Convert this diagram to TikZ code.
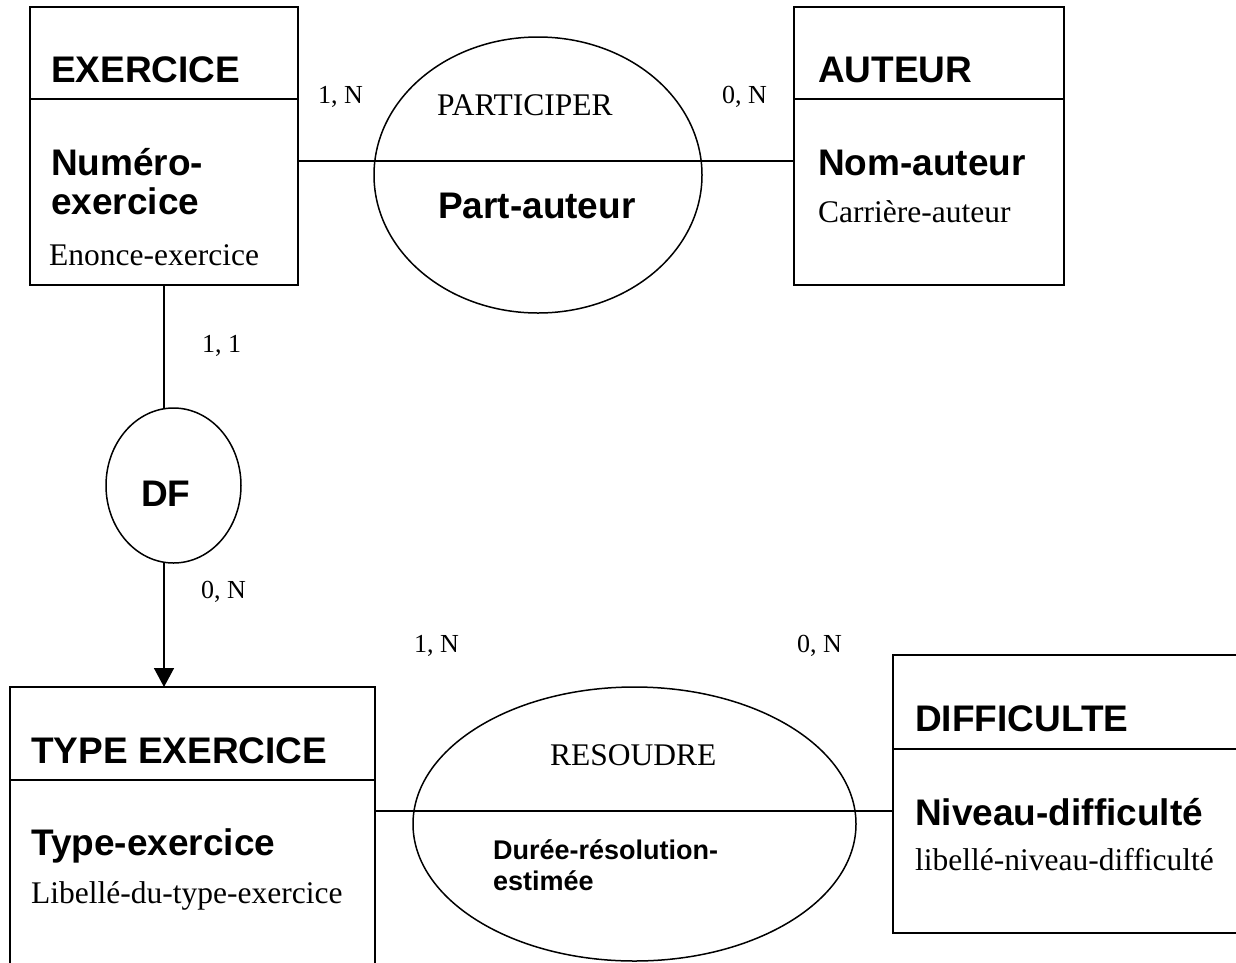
\documentclass[tikz,border=0pt]{standalone}
\usepackage{fontspec}
\setmainfont{Liberation Serif}
\newfontfamily\sansf{Liberation Sans}
\usetikzlibrary{shapes.geometric,arrows.meta}
\tikzset{
  ent/.style={draw, line width=2pt, rectangle, inner sep=0pt, outer sep=0pt, anchor=north west},
  rel/.style={draw, line width=1.5pt, ellipse, inner sep=0pt, outer sep=0pt},
  link/.style={line width=1.5pt},
  divl/.style={line width=2pt},
  ttl/.style={anchor=base west, inner sep=0pt, font=\sansf\bfseries\fontsize{37}{41}\selectfont},
  small/.style={anchor=base west, inner sep=0pt, font=\sansf\bfseries\fontsize{27}{31}\selectfont},
  attr/.style={anchor=base west, inner sep=0pt, font=\fontsize{31.5}{36}\selectfont},
  card/.style={anchor=base west, inner sep=0pt, font=\fontsize{26}{30}\selectfont},
}
\begin{document}
\begin{tikzpicture}[x=1pt, y=-1pt]
\useasboundingbox (0,0) rectangle (1236,962);
\clip (0,0) rectangle (1236,962);
% entity boxes
\node[ent, minimum width=268pt, minimum height=278pt] (exo) at (30,7) {};
\node[ent, minimum width=270pt, minimum height=278pt] (aut) at (794,7) {};
\node[ent, minimum width=365pt, minimum height=300pt] (type) at (10,687) {};
\node[ent, minimum width=360pt, minimum height=278pt] (dif) at (893,655) {};
% divider levels
\coordinate (d1) at (0,99);
\coordinate (d2) at (0,780);
\coordinate (d3) at (0,749);
\coordinate (y1) at (0,161);
\coordinate (y2) at (0,811);
\draw[divl] (exo.west |- d1) -- (exo.east |- d1);
\draw[divl] (aut.west |- d1) -- (aut.east |- d1);
\draw[divl] (type.west |- d2) -- (type.east |- d2);
\draw[divl] (dif.west |- d3) -- (dif.east |- d3);
% relation ellipses
\node[rel, minimum width=328pt, minimum height=276pt] (part) at (538,175) {};
\node[rel, minimum width=135pt, minimum height=155pt] (df) at (173.5,485.5) {};
\node[rel, minimum width=443pt, minimum height=274pt] (res) at (634.5,824) {};
% connectors
\draw[link] (exo.east |- y1) -- (aut.west |- y1);
\draw[link] (type.east |- y2) -- (dif.west |- y2);
\draw[link] (exo.south) -- (exo.south |- df.north);
\draw[link, -{Triangle[length=19pt,width=20pt]}] (exo.south |- df.south) -- (exo.south |- type.north);
% texts: EXERCICE
\node[ttl] (t1) at (51,82) {EXERCICE};
\node[ttl] (t2) at (51,175) {Numéro-};
\node[ttl] (t3) at (51,214) {exercice};
\node[attr] (t4) at (49,265) {Enonce-exercice};
% AUTEUR
\node[ttl] (t5) at (818,82) {AUTEUR};
\node[ttl] (t6) at (818,175) {Nom-auteur};
\node[attr] (t7) at (818,222) {Carrière-auteur};
% PARTICIPER
\node[card] (c1) at (318,103) {1, N};
\node[card] (c2) at (722,103) {0, N};
\node[attr] (t8) at (437,115) {PARTICIPER};
\node[ttl] (t9) at (438,218) {Part-auteur};
% DF
\node[card] (c3) at (202,352) {1, 1};
\node[ttl] (t10) at (141,506) {DF};
\node[card] (c4) at (201,598) {0, N};
% TYPE EXERCICE
\node[ttl] (t11) at (31,763) {TYPE EXERCICE};
\node[ttl] (t12) at (31,855) {Type-exercice};
\node[attr] (t13) at (31,903) {Libellé-du-type-exercice};
% RESOUDRE
\node[card] (c5) at (414,652) {1, N};
\node[card] (c6) at (797,652) {0, N};
\node[attr] (t14) at (550,765) {RESOUDRE};
\node[small] (t15) at (493,859) {Durée-résolution-};
\node[small] (t16) at (493,890) {estimée};
% DIFFICULTE
\node[ttl] (t17) at (915,731) {DIFFICULTE};
\node[ttl] (t18) at (915,825) {Niveau-difficulté};
\node[attr] (t19) at (915,870) {libellé-niveau-difficulté};
\end{tikzpicture}
\end{document}
